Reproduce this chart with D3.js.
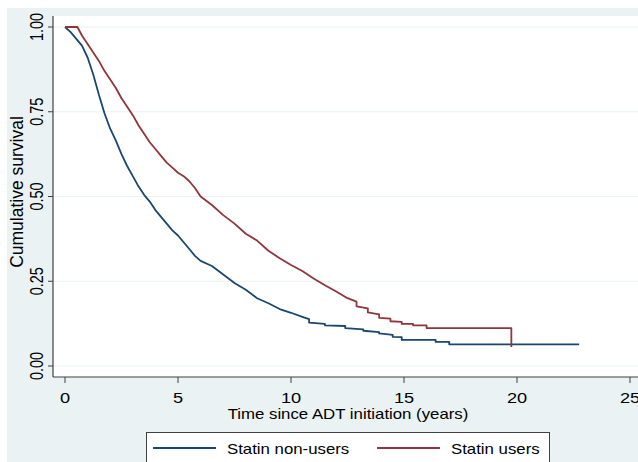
<!DOCTYPE html>
<html>
<head>
<meta charset="utf-8">
<style>
html, body {
  margin: 0px;
  padding: 0px;
  border: 0px;
  background: #ffffff;
}
text {
  font-family: "Liberation Sans", Arial, sans-serif;
  fill: #000000;
}
</style>
</head>
<body>
<div id="chart"></div>
<script src="https://cdn.jsdelivr.net/npm/d3@7"></script>
<script>
  // Kaplan-Meier estimates (years, survival).
  // the early part has so many small steps that it reads as a slope,
  // the flatter stretches in the tail are given as explicit step pairs
  var nonUserTimes = [0, 0.25, 0.5, 0.75, 1.0, 1.25, 1.5, 1.75, 2.0, 2.25, 2.5, 2.75,
    3.0, 3.25, 3.5, 3.75, 4.0, 4.25, 4.5, 4.75, 5.0, 5.25, 5.5, 5.75, 6.0, 6.5,
    7.0, 7.5, 8.0, 8.5, 9.0, 9.5, 10.0, 10.5, 10.8, 10.8, 11.5, 11.5, 12.4, 12.4,
    13.2, 13.2, 13.9, 13.9, 14.5, 14.5, 14.9, 14.9, 16.4, 16.4, 17.0, 17.0, 22.75];
  var nonUserSurv = [1.0, 0.985, 0.965, 0.945, 0.91, 0.86, 0.80, 0.745, 0.70, 0.665, 0.625, 0.59,
    0.56, 0.53, 0.505, 0.485, 0.46, 0.44, 0.42, 0.40, 0.385, 0.365, 0.345, 0.325, 0.31, 0.295,
    0.27, 0.245, 0.225, 0.20, 0.185, 0.168, 0.157, 0.145, 0.138, 0.128, 0.124, 0.12, 0.118, 0.112,
    0.108, 0.104, 0.10, 0.096, 0.092, 0.086, 0.085, 0.077, 0.077, 0.071, 0.071, 0.064, 0.064];

  var userTimes = [0, 0.55, 0.75, 1.0, 1.25, 1.5, 1.75, 2.0, 2.25, 2.5, 2.75, 3.0, 3.25,
    3.5, 3.75, 4.0, 4.25, 4.5, 4.75, 5.0, 5.25, 5.5, 5.75, 6.0, 6.5, 7.0, 7.5, 8.0,
    8.5, 9.0, 9.5, 10.0, 10.5, 11.0, 11.5, 12.0, 12.5, 12.9, 12.9, 13.4, 13.4, 13.9, 13.9,
    14.4, 14.4, 14.9, 14.9, 15.4, 15.4, 16.0, 16.0, 19.75, 19.75];
  var userSurv = [1.0, 1.0, 0.975, 0.95, 0.925, 0.90, 0.87, 0.845, 0.82, 0.79, 0.765, 0.74, 0.71,
    0.685, 0.66, 0.64, 0.62, 0.60, 0.585, 0.57, 0.56, 0.545, 0.525, 0.50, 0.475, 0.445, 0.42, 0.39,
    0.37, 0.34, 0.318, 0.298, 0.28, 0.258, 0.238, 0.22, 0.20, 0.19, 0.176, 0.17, 0.158, 0.152, 0.142,
    0.14, 0.132, 0.13, 0.124, 0.124, 0.12, 0.12, 0.112, 0.112, 0.056];

  var xTicks = [0, 5, 10, 15, 20, 25];
  var yTicks = [0, 0.25, 0.5, 0.75, 1];
  var seriesNames = ["Statin non-users", "Statin users"];
  var seriesColors = ["#1a476f", "#90353b"];

  var series = [
    { name: seriesNames[0], color: seriesColors[0], t: nonUserTimes, s: nonUserSurv },
    { name: seriesNames[1], color: seriesColors[1], t: userTimes, s: userSurv }
  ];

  var W = 638, H = 462;
  var svg = d3.select("#chart").append("svg")
    .attr("width", W)
    .attr("height", H);

  // stata-ish light blue background with a thin white margin top/left
  svg.append("rect").attr("x", 7).attr("y", 8).attr("width", W).attr("height", H)
    .attr("fill", "#eaf2f3");

  var plotL = 53, plotT = 16, plotB = 377;
  svg.append("rect").attr("x", plotL).attr("y", plotT)
    .attr("width", W - plotL).attr("height", plotB - plotT)
    .attr("fill", "#ffffff");

  var x = d3.scaleLinear().domain([0, 25]).range([65, 630]);
  var y = d3.scaleLinear().domain([0, 1]).range([366, 27]);

  // gridlines
  svg.selectAll("line.grid")
    .data(yTicks)
    .enter()
    .append("line")
    .attr("class", "grid")
    .attr("x1", plotL).attr("x2", W)
    .attr("y1", function (d) { return y(d) }).attr("y2", function (d) { return y(d) })
    .attr("stroke", "#eaf2f3")
    .attr("stroke-width", 1.2);

  // axes
  svg.append("line").attr("x1", plotL).attr("x2", plotL).attr("y1", plotT).attr("y2", plotB)
    .attr("stroke", "#404040").attr("stroke-width", 1.2);
  svg.append("line").attr("x1", plotL).attr("x2", W).attr("y1", plotB).attr("y2", plotB)
    .attr("stroke", "#404040").attr("stroke-width", 1.2);

  svg.selectAll("line.ytick")
    .data(yTicks)
    .enter()
    .append("line")
    .attr("class", "ytick")
    .attr("x1", plotL - 5).attr("x2", plotL)
    .attr("y1", function (d) { return y(d) }).attr("y2", function (d) { return y(d) })
    .attr("stroke", "#404040");

  svg.selectAll("line.xtick")
    .data(xTicks)
    .enter()
    .append("line")
    .attr("class", "xtick")
    .attr("x1", function (d) { return x(d) }).attr("x2", function (d) { return x(d) })
    .attr("y1", plotB).attr("y2", plotB + 6)
    .attr("stroke", "#404040");

  // the source picture is stretched sideways, so labels get a little x-scale
  svg.selectAll("text.ylab")
    .data(yTicks)
    .enter()
    .append("text")
    .attr("class", "ylab")
    .attr("transform", function (d) { return "translate(43," + y(d) + ") scale(1.3,1) rotate(-90)" })
    .attr("text-anchor", "middle")
    .style("font-size", "14.5px")
    .text(function (d) { return d3.format(".2f")(d) });

  svg.selectAll("text.xlab")
    .data(xTicks)
    .enter()
    .append("text")
    .attr("class", "xlab")
    .attr("transform", function (d) { return "translate(" + x(d) + ",403) scale(1.3,1)" })
    .attr("text-anchor", "middle")
    .style("font-size", "14px")
    .text(function (d) { return d });

  svg.append("text")
    .attr("transform", "translate(23,192) rotate(-90)")
    .attr("text-anchor", "middle")
    .style("font-size", "17.5px")
    .text("Cumulative survival");

  svg.append("text")
    .attr("transform", "translate(348,419) scale(1.2,1)")
    .attr("text-anchor", "middle")
    .style("font-size", "14px")
    .text("Time since ADT initiation (years)");

  // survival curves
  var line = d3.line()
    .x(function (d) { return x(d[0]) })
    .y(function (d) { return y(d[1]) });

  svg.selectAll("path.km")
    .data(series)
    .enter()
    .append("path")
    .attr("class", "km")
    .attr("fill", "none")
    .attr("stroke", function (d) { return d.color })
    .attr("stroke-width", 1.8)
    .attr("stroke-linejoin", "round")
    .attr("d", function (d) { return line(d3.zip(d.t, d.s)) });

  // legend
  var legend = svg.append("g");
  legend.append("rect")
    .attr("x", 146.5).attr("y", 432.5).attr("width", 403).attr("height", 50)
    .attr("fill", "#ffffff").attr("stroke", "#404040");

  var legX = [153, 377];
  var items = legend.selectAll("g.item")
    .data(series)
    .enter()
    .append("g")
    .attr("class", "item")
    .attr("transform", function (d, i) { return "translate(" + legX[i] + ",0)" });
  items.append("line")
    .attr("x1", 0).attr("x2", 63).attr("y1", 448).attr("y2", 448)
    .attr("stroke", function (d) { return d.color })
    .attr("stroke-width", 1.8);
  items.append("text")
    .attr("transform", "translate(74,454) scale(1.2,1)")
    .style("font-size", "14px")
    .text(function (d) { return d.name });
</script>
</body>
</html>
